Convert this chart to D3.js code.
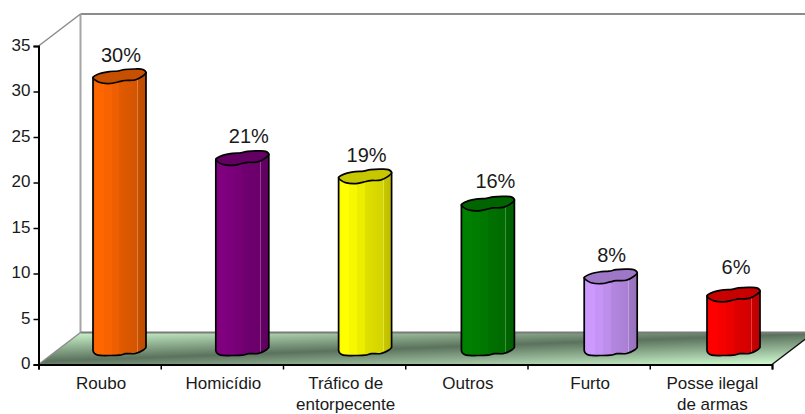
<!DOCTYPE html>
<html><head><meta charset="utf-8">
<script src="https://cdn.jsdelivr.net/npm/d3@7/dist/d3.min.js"></script>
<style>html,body{margin:0;padding:0;background:#fff;overflow:hidden}svg{display:block}text{font-family:"Liberation Sans",Arial,sans-serif;fill:#1a1a1a}</style>
</head><body><svg id="c" width="805" height="414"></svg>
<script>
const categories = [["Roubo"],["Homicídio"],["Tráfico de","entorpecente"],["Outros"],["Furto"],["Posse ilegal","de armas"]];
const values = [30,21,19,16,8,6];
const percentLabels = ["30%","21%","19%","16%","8%","6%"];
const colors = ["#ff6600","#800080","#ffff00","#008000","#cc99ff","#ff0000"];
const yTicks = [0,5,10,15,20,25,30,35];

const W=805,H=414;
const axisX=38.5, axisY=364.5, axisTop=46, axisRight=772;
const depthX=42, depthY=32;
const barDepth=14;
const barLabelNudge=[1.5,6.5,1.5,7.5,1,2.5];
const barLabelLift=[0,1,0,1,0,6.5];
// outline of a bar cap / foot, as fractions of bar width and px from the bar's front-left level
const capShape=[[0,0],[.13,-4],[.32,-6],[.47,-6.5],[.6,-8],[.79,-8.5],[.94,-8],[1,-5],[.94,-1.5],[.79,2.5],[.6,3],[.47,4.5],[.32,6],[.13,5],[.04,2.5]];
const footShape=[[0,0],[.02,2.5],[.09,4.6],[.3,5],[.5,4.7],[.62,3.2],[.8,3],[.95,-.5],[1,-3]];

const svg=d3.select("#c");
const defs=svg.append("defs");
const y=d3.scaleLinear().domain([0,35]).range([axisY,axisTop]);
const xKeys=categories.map((c,i)=>i);
const x=d3.scaleBand().domain(xKeys).range([axisX,axisRight]);
const barX=d3.scaleBand().domain(xKeys).range([93,93+6*122.8]);
const barW=53;

const floor=defs.append("linearGradient").attr("id","floor").attr("gradientUnits","userSpaceOnUse")
 .attr("x1",414).attr("y1",320).attr("x2",416).attr("y2",376);
[[0,"#ccf7cc"],[.5,"#5b725d"],[1,"#ccf7cc"]].forEach(s=>floor.append("stop").attr("offset",s[0]).attr("stop-color",s[1]));

const wall="#8c8c8c";
svg.append("polygon").attr("fill","url(#floor)")
 .attr("points",[[axisX,axisY],[axisX+depthX,axisY-depthY],[axisRight+depthX,axisY-depthY],[axisRight,axisY]].join(" "));
const seg=(a,b,c,w)=>svg.append("line").attr("x1",a[0]).attr("y1",a[1]).attr("x2",b[0]).attr("y2",b[1]).attr("stroke",c).attr("stroke-width",w);
const bx=axisX+depthX, ty=axisTop-depthY, by=axisY-depthY;
seg([bx,ty],[W,ty],wall,2);
seg([bx,ty],[bx,by],"#a6a6a6",2);
seg([axisX,axisTop],[bx,ty],wall,1.5);
seg([axisX,axisY],[bx,by],wall,1.5);
seg([bx,by],[W,by],"#7a7a7a",2);
seg([axisRight,axisY],[axisRight+depthX,by],"#111",1.5);

colors.forEach((c,i)=>{
 const g=defs.append("linearGradient").attr("id","bar"+i).attr("x1",0).attr("x2",1).attr("y1",0).attr("y2",0);
 const col=k=>d3.interpolateRgb("#000",c)(k);
 const lite=k=>d3.interpolateRgb(col(.84),"#fff")(k);
 const stops=[[0,col(.94)],[.05,col(1)],[.2,col(1)],[.2,col(.97)],[.35,col(.97)],[.35,col(.93)],[.5,col(.93)],[.5,col(.88)],[.83,col(.83)],[.83,lite(.25)],[.85,lite(.25)],[.85,col(.78)],[.98,col(.74)],[1,col(.7)]];
 stops.forEach(s=>g.append("stop").attr("offset",s[0]).attr("stop-color",s[1]));
});

const smooth=d3.line().curve(d3.curveCatmullRomClosed.alpha(.5));
const bars=svg.append("g").selectAll("g").data(values).join("g");
bars.each(function(v,i){
 const g=d3.select(this), x0=barX(i), yT=y(v)-barDepth, yB=y(0)-barDepth;
 const foot=d3.line().curve(d3.curveCatmullRom.alpha(.5))(footShape.map(p=>[x0+p[0]*barW,yB+p[1]]));
 const rightTop=yT-5;
 g.append("path").attr("d",`M${x0},${yT}L${x0},${yB}`+foot.replace(/^M[^C]*/,"")+`L${x0+barW},${rightTop}Z`)
  .attr("fill",`url(#bar${i})`).attr("stroke","#000").attr("stroke-width",1.7).attr("stroke-linejoin","round");
 g.append("path").attr("d",smooth(capShape.map(p=>[x0+p[0]*barW,yT+p[1]])))
  .attr("fill",d3.interpolateRgb("#000",colors[i])(.78)).attr("stroke","#000").attr("stroke-width",1.7);
 g.append("text").attr("x",x0+barW/2+barLabelNudge[i]).attr("y",yT-15.5-barLabelLift[i]).attr("text-anchor","middle")
  .attr("font-size",20).text(percentLabels[i]);
});

const yAxis=d3.axisLeft(y).tickValues(yTicks).tickSize(5).tickPadding(3);
const yg=svg.append("g").attr("transform",`translate(${axisX},0)`).call(yAxis);
yg.select(".domain").attr("stroke","#000").attr("stroke-width",2);
yg.selectAll("line").attr("stroke","#000").attr("stroke-width",1.5);
yg.selectAll("text").attr("font-size",17).attr("font-family","Liberation Sans").attr("dy","0.26em");

const tickPos=d3.range(7).map(i=>axisX+i*x.step());
const xAxis=d3.axisBottom(d3.scaleLinear().domain([axisX,axisRight]).range([axisX,axisRight])).tickValues(tickPos).tickSize(5).tickFormat("");
const xg=svg.append("g").attr("transform",`translate(0,${axisY})`).call(xAxis);
xg.select(".domain").attr("stroke","#000").attr("stroke-width",2);
xg.selectAll("line").attr("stroke","#000").attr("stroke-width",1.5);
categories.forEach((lines,i)=>{
 lines.forEach((t,j)=>svg.append("text").attr("x",x(i)+x.bandwidth()/2+1.5).attr("y",389+j*20.5)
  .attr("text-anchor","middle").attr("font-size",17).text(t));
});
</script></body></html>
